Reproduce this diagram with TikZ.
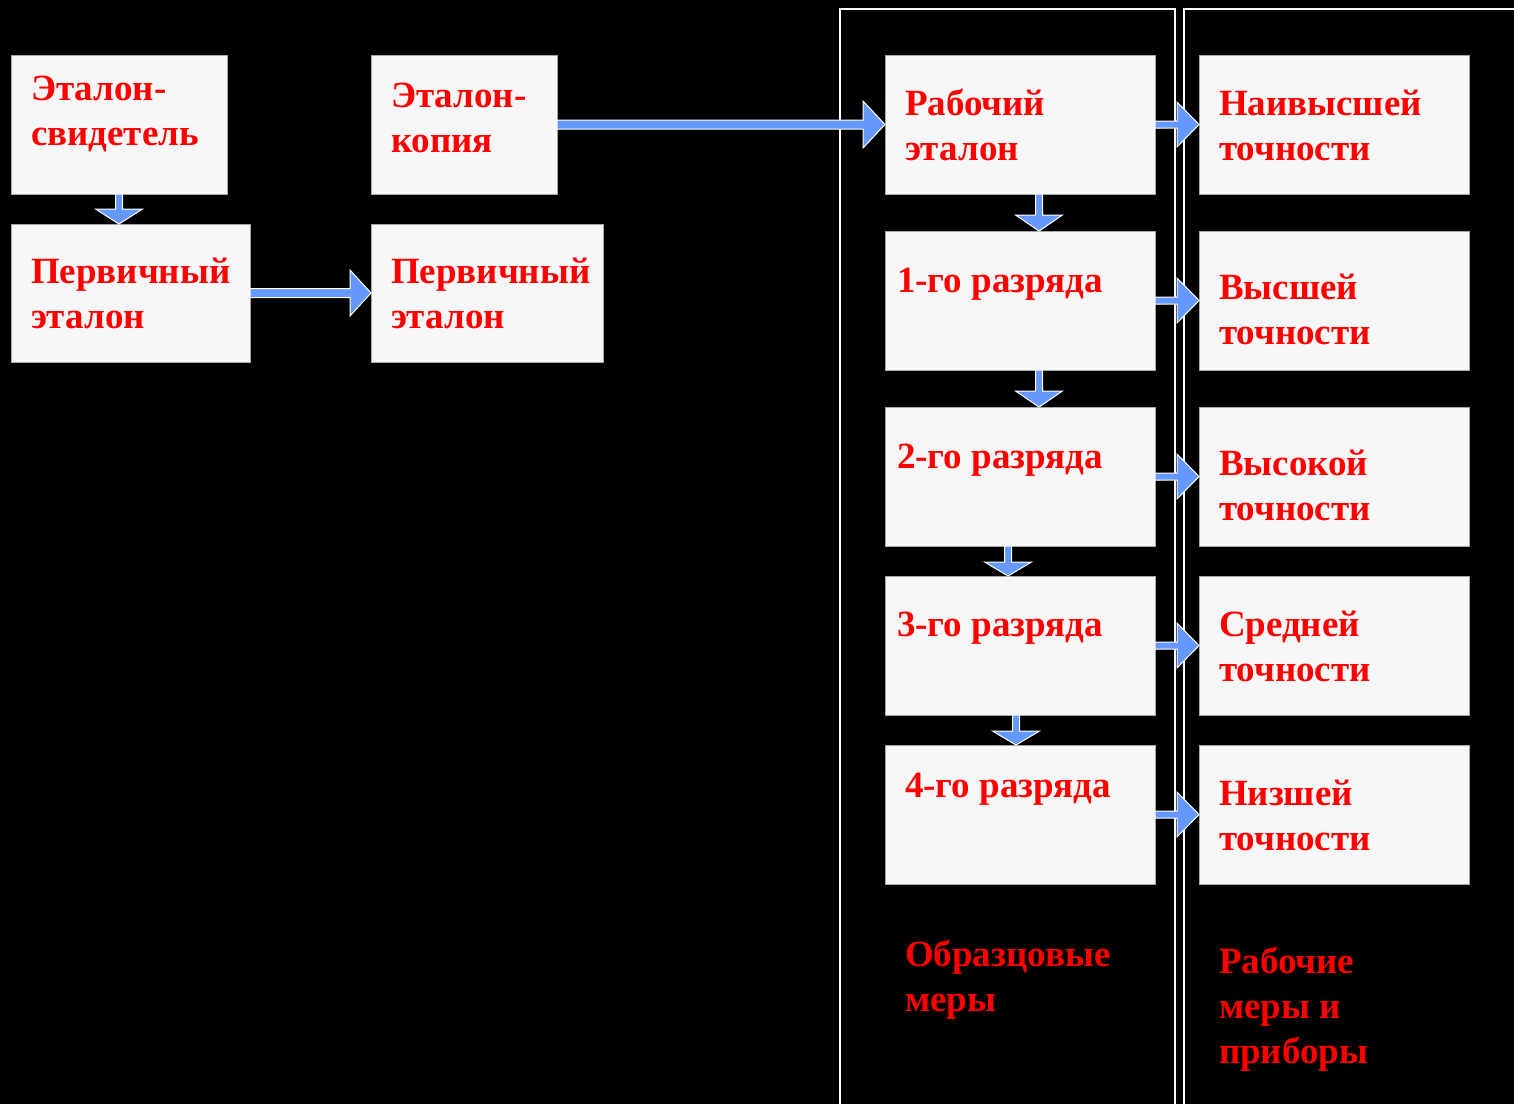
\documentclass[tikz,border=0pt]{standalone}
\usepackage{fontspec}
\setmainfont{Liberation Serif}
\usetikzlibrary{calc}
\definecolor{arrblue}{HTML}{6699FF}
\definecolor{boxfill}{HTML}{F7F7F7}
\definecolor{boxline}{HTML}{A6A6A6}
\definecolor{txtred}{HTML}{FF0000}
\tikzset{
  box/.style={draw=boxline, line width=0.8pt, fill=boxfill, anchor=north west, inner sep=0pt, outer sep=0pt, minimum width=#1},
  box/.default=270pt,
  lbl/.style={anchor=base west, inner sep=0pt, outer sep=0pt, text=txtred, align=left,
    font=\bfseries\fontsize{37}{45}\selectfont},
  blockarrow/.style={fill=arrblue, draw=white, line width=1pt, line join=miter},
  frame/.style={draw=white, line width=1.6pt}
}
% horizontal block arrow: from, to, shaft half, head half, head length
\newcommand\harr[5]{%
  \path[blockarrow] let \p1=(#1.east), \p2=(#2.west) in
    (\x1,{\y1+#3pt}) -- ({\x2-#5pt},{\y1+#3pt}) -- ({\x2-#5pt},{\y1+#4pt}) -- (\x2,\y1)
    -- ({\x2-#5pt},{\y1-#4pt}) -- ({\x2-#5pt},{\y1-#3pt}) -- (\x1,{\y1-#3pt}) -- cycle;}
% vertical block arrow: x, from, to, shaft half, head half, head length
\newcommand\varr[6]{%
  \path[blockarrow] let \p1=(#2.south), \p2=(#3.north) in
    ({#1pt-#4pt},\y1) -- ({#1pt-#4pt},{\y2+#6pt}) -- ({#1pt-#5pt},{\y2+#6pt}) -- ({#1pt},\y2)
    -- ({#1pt+#5pt},{\y2+#6pt}) -- ({#1pt+#4pt},{\y2+#6pt}) -- ({#1pt+#4pt},\y1) -- cycle;}
\begin{document}
\begin{tikzpicture}[x=1pt,y=-1pt]
  \fill[black] (0,0) rectangle (1514,1104);
  \useasboundingbox (0,0) rectangle (1514,1104);
  \begin{scope}
    \clip (0,0) rectangle (1514,1104);
    \draw[frame] (840,1110) -- (840,9) -- (1175,9) -- (1175,1110);
    \draw[frame] (1184,1110) -- (1184,9) -- (1520,9);
  \end{scope}

  % boxes
  \node[box=216pt, minimum height=139pt] (ws) at (11,55) {};
  \node[box=239pt, minimum height=138pt] (p1) at (11,224) {};
  \node[box=186pt, minimum height=139pt] (ck) at (371,55) {};
  \node[box=232pt, minimum height=138pt] (p2) at (371,224) {};
  \node[box, minimum height=139pt] (we) at (885,55) {};
  \node[box, minimum height=139pt] (r1) at (885,231) {};
  \node[box, minimum height=139pt] (r2) at (885,407) {};
  \node[box, minimum height=139pt] (r3) at (885,576) {};
  \node[box, minimum height=139pt] (r4) at (885,745) {};
  \node[box, minimum height=139pt] (a1) at (1199,55) {};
  \node[box, minimum height=139pt] (a2) at (1199,231) {};
  \node[box, minimum height=139pt] (a3) at (1199,407) {};
  \node[box, minimum height=139pt] (a4) at (1199,576) {};
  \node[box, minimum height=139pt] (a5) at (1199,745) {};

  % texts (anchor = baseline of the last line)
  \node[lbl] (tws) at (31,145) {Эталон-\\свидетель};
  \node[lbl] (tp1) at (31,328) {Первичный\\эталон};
  \node[lbl] (tck) at (391,152) {Эталон-\\копия};
  \node[lbl] (tp2) at (391,328) {Первичный\\эталон};
  \node[lbl] (twe) at (905,160) {Рабочий\\эталон};
  \node[lbl] (tr1) at (897,292) {1-го разряда};
  \node[lbl] (tr2) at (897,468) {2-го разряда};
  \node[lbl] (tr3) at (897,636) {3-го разряда};
  \node[lbl] (tr4) at (905,797) {4-го разряда};
  \node[lbl] (ta1) at (1219,160) {Наивысшей\\точности};
  \node[lbl] (ta2) at (1219,344) {Высшей\\точности};
  \node[lbl] (ta3) at (1219,520) {Высокой\\точности};
  \node[lbl] (ta4) at (1219,681) {Средней\\точности};
  \node[lbl] (ta5) at (1219,850) {Низшей\\точности};
  \node[lbl] (tob) at (905,1011) {Образцовые\\меры};
  \node[lbl] (trm) at (1219,1063) {Рабочие\\меры и\\приборы};

  % arrows
  \varr{119}{ws}{p1}{3.5}{23.5}{15}
  \harr{p1}{p2}{4.5}{23}{21}
  \harr{ck}{we}{4.5}{23.5}{22}
  \varr{1039}{we}{r1}{3.5}{23.5}{16}
  \varr{1039}{r1}{r2}{3.5}{23.5}{16}
  \varr{1008}{r2}{r3}{3.5}{23.5}{14}
  \varr{1016}{r3}{r4}{3.5}{23.5}{14}
  \harr{we}{a1}{3.5}{22.5}{22}
  \harr{r1}{a2}{3.5}{22.5}{22}
  \harr{r2}{a3}{3.5}{22.5}{22}
  \harr{r3}{a4}{3.5}{22.5}{22}
  \harr{r4}{a5}{3.5}{22.5}{22}
\end{tikzpicture}
\end{document}
